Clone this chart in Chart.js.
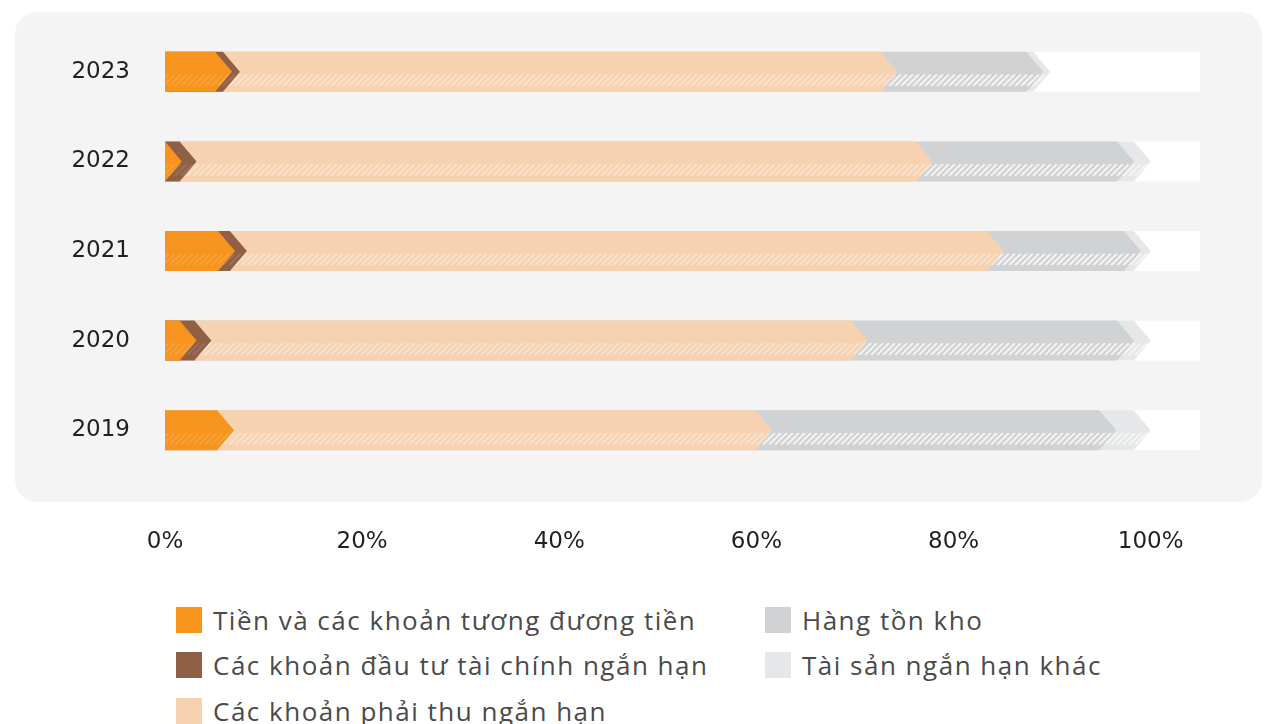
<!DOCTYPE html>
<html>
<head>
<meta charset="utf-8">
<script src="https://cdn.jsdelivr.net/npm/chart.js@4.4.1/dist/chart.umd.min.js"></script>
<style>
  body { margin:0; background:#fff; width:1274px; height:724px; overflow:hidden; position:relative; font-family:"Open Sans", sans-serif; }
  #wrap { position:absolute; left:0; top:0; width:1274px; height:580px; }
  .leg { position:absolute; display:flex; align-items:center; font-size:26px; letter-spacing:1.5px; color:#4a4a4a; white-space:nowrap; }
  .leg span.box { width:26px; height:26px; margin-right:11px; display:inline-block; }
</style>
</head>
<body>
<div id="wrap"><canvas id="chart" width="1274" height="580"></canvas></div>
<div id="legend"></div>
<script>
// ===== Data =====
const years = ["2023", "2022", "2021", "2020", "2019"];
const tienMat = [6.8, 1.7, 7.1, 3.2, 7.0];       // Tiền và các khoản tương đương tiền
const dauTuNganHan = [0.8, 1.5, 1.2, 1.5, 0];     // Các khoản đầu tư tài chính ngắn hạn
const phaiThu = [66.7, 74.7, 76.8, 66.6, 54.6];   // Các khoản phải thu ngắn hạn
const hangTonKho = [14.8, 20.4, 13.9, 27.0, 34.9];
const taiSanKhac = [0.7, 1.7, 1.0, 1.7, 3.5];
const xTicks = [0, 20, 40, 60, 80, 100];

const seriesNames = [
  "Tiền và các khoản tương đương tiền",
  "Các khoản đầu tư tài chính ngắn hạn",
  "Các khoản phải thu ngắn hạn",
  "Hàng tồn kho",
  "Tài sản ngắn hạn khác"
];
const seriesValues = [tienMat, dauTuNganHan, phaiThu, hangTonKho, taiSanKhac];
const seriesColors = ["#f7941d", "#8f6045", "#f6d2b0", "#d1d2d4", "#e6e7e8"];
const hatchAlpha = [0.12, 0.1, 0.35, 0.75, 0.6];

// ===== Plugins =====
const panelPlugin = {
  id: "panel",
  beforeDraw(chart){
    const ctx = chart.ctx;
    ctx.save();
    ctx.fillStyle = "#f4f4f4";
    ctx.beginPath();
    ctx.roundRect(15, 12, 1247, 490, 22);
    ctx.fill();
    ctx.restore();
  }
};

// bars drawn as chevrons, last series first so earlier ones sit on top
const chevronPlugin = {
  id: "chevrons",
  beforeDatasetsDraw(chart){
    const ctx = chart.ctx;
    const xs = chart.scales.x;
    const x0 = xs.getPixelForValue(0);
    const xEnd = xs.getPixelForValue(105);
    const metas = chart.data.datasets.map((d, i) => chart.getDatasetMeta(i));
    const d = 17;
    years.forEach((yr, j) => {
      const ref = metas[0].data[j];
      const h = ref.height, top = ref.y - h / 2, bot = top + h, cy = ref.y;
      ctx.save();
      ctx.fillStyle = "#ffffff";
      ctx.fillRect(x0, top, xEnd - x0, h);
      for (let i = metas.length - 1; i >= 0; i--) {
        if (!seriesValues[i][j]) continue;
        const tip = metas[i].data[j].x;
        const flat = Math.max(x0, tip - d);
        ctx.beginPath();
        ctx.moveTo(x0, top);
        ctx.lineTo(flat, top);
        ctx.lineTo(tip, cy);
        ctx.lineTo(flat, bot);
        ctx.lineTo(x0, bot);
        ctx.closePath();
        ctx.fillStyle = seriesColors[i];
        ctx.fill();
        // hatch band
        ctx.save();
        ctx.clip();
        const ht = cy + 2.5, hb = cy + 14.5;
        ctx.beginPath();
        ctx.rect(x0, ht, tip - x0, hb - ht);
        ctx.clip();
        ctx.strokeStyle = "rgba(255,255,255," + hatchAlpha[i] + ")";
        ctx.lineWidth = 2;
        ctx.beginPath();
        for (let sx = x0 - 20; sx < tip + 20; sx += 6) {
          ctx.moveTo(sx, hb);
          ctx.lineTo(sx + (hb - ht), ht);
        }
        ctx.stroke();
        ctx.restore();
      }
      ctx.restore();
    });
    return false;
  }
};

// ===== Chart =====
const ctx = document.getElementById("chart").getContext("2d");
new Chart(ctx, {
  type: "bar",
  data: {
    labels: years,
    datasets: seriesNames.map((name, i) => ({
      label: name,
      data: seriesValues[i],
      backgroundColor: seriesColors[i],
      barThickness: 40
    }))
  },
  options: {
    indexAxis: "y",
    responsive: false,
    animation: false,
    layout: { padding: { top: 27, right: 74, left: 0, bottom: 0 } },
    plugins: { legend: { display: false }, tooltip: { enabled: false } },
    scales: {
      x: {
        stacked: true, min: 0, max: 105,
        grid: { display: false, drawTicks: false },
        border: { display: false },
        afterBuildTicks(scale){ scale.ticks = xTicks.map(v => ({ value: v })); },
        afterFit(scale){ scale.height = 105; },
        ticks: {
          padding: 53,
          color: "#231f20",
          font: { family: "DejaVu Sans", size: 23 },
          callback: v => v + "%"
        }
      },
      y: {
        stacked: true,
        grid: { display: false, drawTicks: false },
        border: { display: false },
        afterFit(scale){
          scale.width = 165;
          scale.paddingTop = 0;
          scale.paddingBottom = 0;
        },
        ticks: {
          padding: 35,
          color: "#231f20",
          font: { family: "DejaVu Sans", size: 23 }
        }
      }
    }
  },
  plugins: [panelPlugin, chevronPlugin]
});

// ===== Legend =====
const legendPos = [[176, 620], [176, 665], [176, 711], [765, 620], [765, 665]];
const legend = document.getElementById("legend");
seriesNames.forEach((name, i) => {
  const div = document.createElement("div");
  div.className = "leg";
  div.style.left = legendPos[i][0] + "px";
  div.style.top = (legendPos[i][1] - 18) + "px";
  div.style.height = "36px";
  div.innerHTML = `<span class="box" style="background:${seriesColors[i]}"></span>${name}`;
  legend.appendChild(div);
});
</script>
</body>
</html>
